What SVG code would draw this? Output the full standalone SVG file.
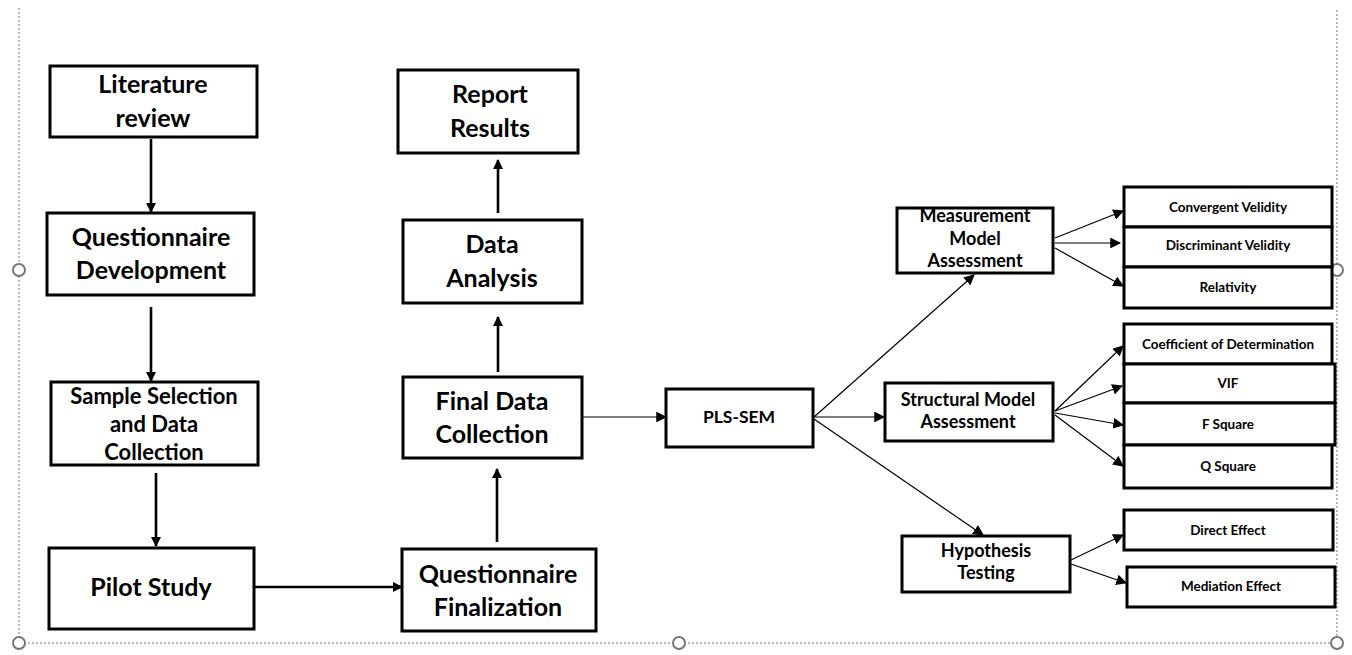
<svg xmlns="http://www.w3.org/2000/svg" width="1352" height="655" viewBox="0 0 1352 655">
<defs>
<style>
.b{fill:#fff;stroke:#000;stroke-width:3}
.t{font-family:Lato,"Liberation Sans",sans-serif;font-weight:bold;fill:#000;text-anchor:middle}
.l{font-size:25px}
.m{font-size:18px}
.s{font-size:13.5px}
.thick{stroke:#000;stroke-width:2.6;fill:none}
.thin{stroke:#000;stroke-width:1.2;fill:none}
.frame{stroke:#777;stroke-width:1;stroke-dasharray:2,2;fill:none}
.h{fill:#fff;stroke:#777;stroke-width:2}
</style>
<marker id="ak" viewBox="0 0 10 10" refX="9" refY="5" markerWidth="4" markerHeight="4" orient="auto" markerUnits="strokeWidth"><path d="M0,0L10,5L0,10z" fill="#000"/></marker>
<marker id="an" viewBox="0 0 10 10" refX="9" refY="5" markerWidth="9" markerHeight="9" orient="auto" markerUnits="strokeWidth"><path d="M0,0L10,5L0,10z" fill="#000"/></marker>
</defs>
<g id="frame">
<path class="frame" d="M19,8V643H1337V8"/>
<circle class="h" cx="19" cy="270" r="6"/>
<circle class="h" cx="19" cy="643" r="6"/>
<circle class="h" cx="679" cy="643" r="6"/>
<circle class="h" cx="1337" cy="270" r="6"/>
<circle class="h" cx="1337" cy="643" r="6"/>
</g>
<g id="connectors">
<line class="thick" x1="151" y1="139" x2="151" y2="212" marker-end="url(#ak)"/>
<line class="thick" x1="151" y1="307" x2="151" y2="381" marker-end="url(#ak)"/>
<line class="thick" x1="156" y1="473" x2="156" y2="546" marker-end="url(#ak)"/>
<line class="thick" x1="255" y1="587" x2="402" y2="587" marker-end="url(#ak)"/>
<line class="thick" x1="497" y1="542" x2="497" y2="469" marker-end="url(#ak)"/>
<line class="thick" x1="498" y1="372" x2="498" y2="317" marker-end="url(#ak)"/>
<line class="thick" x1="498" y1="213" x2="498" y2="160" marker-end="url(#ak)"/>
<line class="thin" x1="583" y1="417" x2="666" y2="417" marker-end="url(#an)"/>
<line class="thin" x1="814" y1="417" x2="974" y2="275" marker-end="url(#an)"/>
<line class="thin" x1="814" y1="417" x2="884" y2="417" marker-end="url(#an)"/>
<line class="thin" x1="814" y1="419" x2="983" y2="535" marker-end="url(#an)"/>
<line class="thin" x1="1055" y1="238" x2="1123" y2="211" marker-end="url(#an)"/>
<line class="thin" x1="1055" y1="243" x2="1120" y2="243" marker-end="url(#an)"/>
<line class="thin" x1="1055" y1="248" x2="1123" y2="286" marker-end="url(#an)"/>
<line class="thin" x1="1055" y1="411" x2="1123" y2="346" marker-end="url(#an)"/>
<line class="thin" x1="1055" y1="411" x2="1122" y2="386" marker-end="url(#an)"/>
<line class="thin" x1="1055" y1="413" x2="1123" y2="425" marker-end="url(#an)"/>
<line class="thin" x1="1055" y1="415" x2="1123" y2="466" marker-end="url(#an)"/>
<line class="thin" x1="1071" y1="560" x2="1123" y2="535" marker-end="url(#an)"/>
<line class="thin" x1="1071" y1="564" x2="1126" y2="583" marker-end="url(#an)"/>
</g>
<g id="literature-review"><rect class="b" x="50" y="66" width="207" height="71"/><text class="t l" x="153" y="93">Literature</text><text class="t l" x="153" y="127">review</text></g>
<g id="questionnaire-development"><rect class="b" x="47" y="213" width="207" height="82"/><text class="t l" x="151" y="246">Questionnaire</text><text class="t l" x="151" y="279">Development</text></g>
<g id="sample-selection"><rect class="b" x="51" y="382" width="207" height="83"/><text class="t" font-size="22" x="154" y="404">Sample Selection</text><text class="t" font-size="22" x="154" y="432">and Data</text><text class="t" font-size="22" x="154" y="460">Collection</text></g>
<g id="pilot-study"><rect class="b" x="49" y="548" width="205" height="81"/><text class="t l" x="151" y="596">Pilot Study</text></g>
<g id="questionnaire-finalization"><rect class="b" x="402" y="549" width="194" height="82"/><text class="t l" x="498" y="583">Questionnaire</text><text class="t l" x="498" y="616">Finalization</text></g>
<g id="final-data-collection"><rect class="b" x="403" y="377" width="179" height="81"/><text class="t l" x="492" y="410">Final Data</text><text class="t l" x="492" y="443">Collection</text></g>
<g id="data-analysis"><rect class="b" x="403" y="220" width="179" height="83"/><text class="t l" x="492" y="253">Data</text><text class="t l" x="492" y="287">Analysis</text></g>
<g id="report-results"><rect class="b" x="398" y="70" width="180" height="83"/><text class="t l" x="490" y="103">Report</text><text class="t l" x="490" y="137">Results</text></g>
<g id="pls-sem"><rect class="b" x="666" y="389" width="147" height="58"/><text class="t" font-size="17.5" x="739" y="423">PLS-SEM</text></g>
<g id="measurement"><rect class="b" x="897" y="208" width="156" height="65"/><text class="t m" x="975" y="222">Measurement</text><text class="t m" x="975" y="245">Model</text><text class="t m" x="975" y="267">Assessment</text></g>
<g id="structural"><rect class="b" x="885" y="383" width="168" height="58"/><text class="t m" x="968" y="406">Structural Model</text><text class="t m" x="968" y="428">Assessment</text></g>
<g id="hypothesis"><rect class="b" x="902" y="536" width="168" height="56"/><text class="t m" x="986" y="557">Hypothesis</text><text class="t m" x="986" y="579">Testing</text></g>
<g id="convergent"><rect class="b" x="1124" y="187" width="208" height="40"/><text class="t s" x="1228" y="212">Convergent Velidity</text></g>
<g id="discriminant"><rect class="b" x="1124" y="227" width="208" height="40"/><text class="t s" x="1228" y="250">Discriminant Velidity</text></g>
<g id="relativity"><rect class="b" x="1124" y="267" width="208" height="41"/><text class="t s" x="1228" y="292">Relativity</text></g>
<g id="coefficient"><rect class="b" x="1124" y="324" width="208" height="40"/><text class="t s" x="1228" y="349">Coefficient of Determination</text></g>
<g id="vif"><rect class="b" x="1124" y="364" width="211" height="39"/><text class="t s" x="1228" y="388">VIF</text></g>
<g id="f-square"><rect class="b" x="1124" y="403" width="211" height="42"/><text class="t s" x="1228" y="429">F Square</text></g>
<g id="q-square"><rect class="b" x="1124" y="445" width="208" height="43"/><text class="t s" x="1228" y="471">Q Square</text></g>
<g id="direct-effect"><rect class="b" x="1124" y="510" width="209" height="40"/><text class="t s" x="1228" y="535">Direct Effect</text></g>
<g id="mediation-effect"><rect class="b" x="1127" y="567" width="208" height="40"/><text class="t s" x="1231" y="591">Mediation Effect</text></g>
</svg>
